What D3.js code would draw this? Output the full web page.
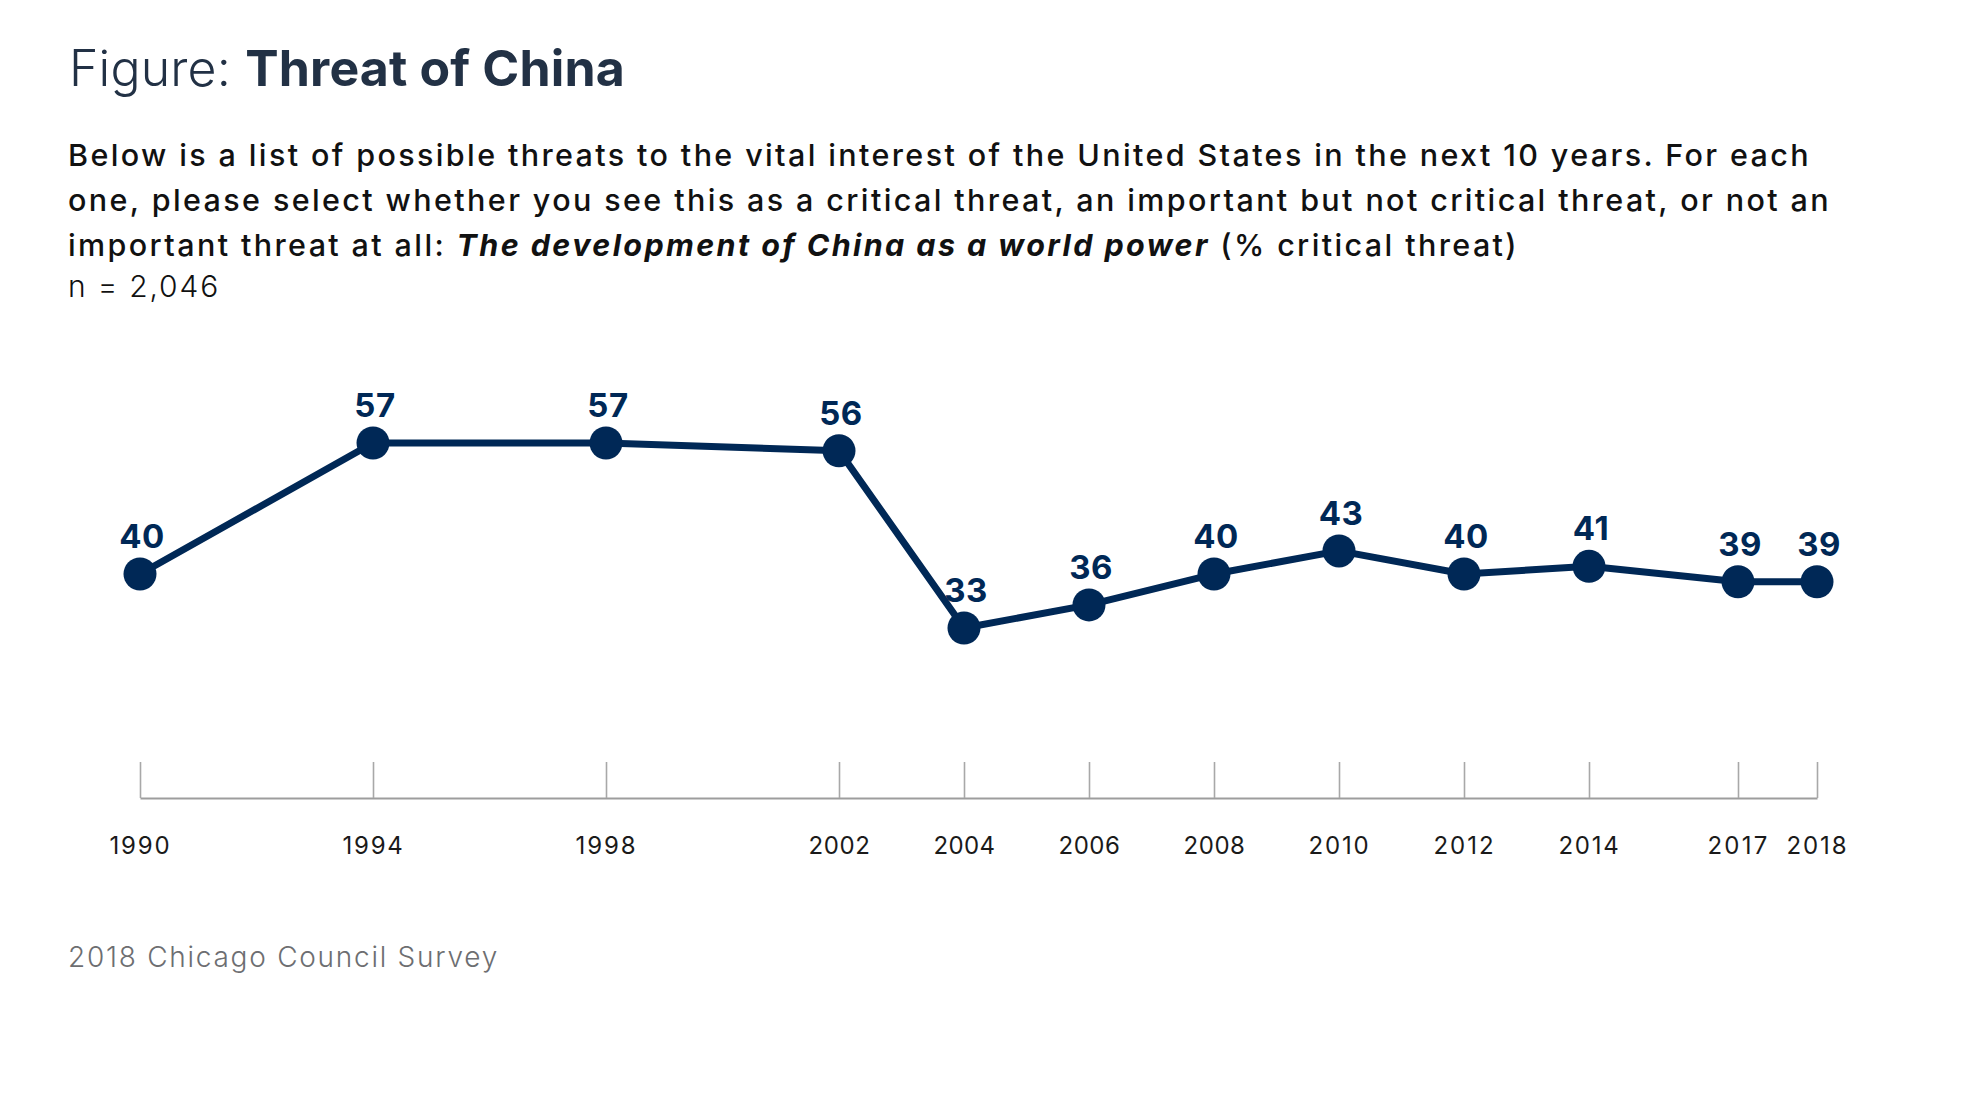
<!DOCTYPE html>
<html>
<head>
<meta charset="utf-8">
<script src="https://cdn.jsdelivr.net/npm/d3@7"></script>
<style>
  html, body { margin: 0; padding: 0; background: #fff; }
  svg { display: block; }
  text { font-family: Inter, "Open Sans", sans-serif; }
</style>
</head>
<body>
<svg id="chart" width="1962" height="1105"></svg>
<script>
// ---- data ----
const years = [1990, 1994, 1998, 2002, 2004, 2006, 2008, 2010, 2012, 2014, 2017, 2018];
const values = [40, 57, 57, 56, 33, 36, 40, 43, 40, 41, 39, 39];
const tickLabels = ["1990", "1994", "1998", "2002", "2004", "2006", "2008", "2010", "2012", "2014", "2017", "2018"];
const titleLight = "Figure: ";
const titleBold = "Threat of China";
const subtitleLines = [
  [{t: "Below is a list of possible threats to the vital interest of the United States in the next 10 years. For each", s: "n"}],
  [{t: "one, please select whether you see this as a critical threat, an important but not critical threat, or not an", s: "n"}],
  [{t: "important threat at all: ", s: "n"}, {t: "The development of China as a world power", s: "bi"}, {t: " (% critical threat)", s: "n"}]
];
const sampleNote = "n = 2,046";
const sourceNote = "2018 Chicago Council Survey";

// ---- setup ----
const svg = d3.select("#chart");
const navy = "#002856";

// stretch letter spacing so a text run spans a target width (mimics the wide original face)
function fitWidth(sel, target) {
  const node = sel.node();
  const w = node.getComputedTextLength();
  const n = node.textContent.length;
  const ls = (target - w) / n;
  sel.attr("letter-spacing", ls.toFixed(3));
}

// x: piecewise-linear year scale (axis spacing is not uniform in the original)
const x = d3.scaleLinear()
  .domain([1990, 2002, 2014, 2017, 2018])
  .range([140, 839, 1589, 1738, 1817]);
const y = d3.scaleLinear().domain([33, 57]).range([628, 443]);
const axisY = 798;

// ---- title ----
const title = svg.append("text").attr("x", 69).attr("y", 86)
  .attr("font-size", 50).attr("fill", "#223145");
title.append("tspan").attr("font-weight", 300).text(titleLight);
title.append("tspan").attr("font-weight", 700).text(titleBold);
fitWidth(title, 556);

// ---- subtitle ----
const subSize = 30.5;
const subTargets = [1743, 1763, 1451];
subtitleLines.forEach((parts, i) => {
  const t = svg.append("text").attr("x", 68).attr("y", 166 + i * 45)
    .attr("font-size", subSize).attr("fill", "#111");
  parts.forEach(p => {
    const ts = t.append("tspan").text(p.t);
    if (p.s === "bi") ts.attr("font-weight", 700).attr("font-style", "italic");
    else ts.attr("font-weight", 500);
  });
  fitWidth(t, subTargets[i]);
});
const nt = svg.append("text").attr("x", 68).attr("y", 297)
  .attr("font-size", 30).attr("font-weight", 300).attr("fill", "#111")
  .text(sampleNote);
fitWidth(nt, 152);

// ---- axis ----
const axis = d3.axisBottom(x)
  .tickValues(years)
  .tickFormat((d, i) => tickLabels[i])
  .tickSizeInner(-36)
  .tickSizeOuter(0);
const gAxis = svg.append("g").attr("transform", `translate(0,${axisY})`).call(axis);
gAxis.select(".domain").attr("stroke", "#9d9d9d").attr("stroke-width", 2.2);
gAxis.selectAll(".tick line").attr("stroke", "#a8a8a8").attr("stroke-width", 1.6);
gAxis.selectAll(".tick text")
  .attr("y", 56).attr("dy", null)
  .attr("font-size", 24).attr("font-weight", 400).attr("fill", "#1a1a1a")
  .attr("font-family", "Inter, sans-serif")
  .each(function() { fitWidth(d3.select(this), 62); });

// ---- line ----
const data = years.map((yr, i) => ({year: yr, value: values[i]}));
const line = d3.line().x(d => x(d.year)).y(d => y(d.value));
svg.append("path").datum(data)
  .attr("d", line).attr("fill", "none")
  .attr("stroke", navy).attr("stroke-width", 7)
  .attr("stroke-linejoin", "round");

svg.selectAll("circle.pt").data(data).enter().append("circle")
  .attr("class", "pt")
  .attr("cx", d => x(d.year)).attr("cy", d => y(d.value))
  .attr("r", 16.5).attr("fill", navy);

svg.selectAll("text.lbl").data(data).enter().append("text")
  .attr("class", "lbl")
  .attr("x", d => x(d.year) + 2).attr("y", d => y(d.value) - 26)
  .attr("text-anchor", "middle")
  .attr("font-size", 33).attr("font-weight", 700).attr("fill", navy)
  .attr("letter-spacing", 0.5)
  .text(d => d.value);

// ---- source ----
const src = svg.append("text").attr("x", 68).attr("y", 967)
  .attr("font-size", 28).attr("font-weight", 300).attr("fill", "#6d6e71")
  .text(sourceNote);
fitWidth(src, 431);
</script>
</body>
</html>
